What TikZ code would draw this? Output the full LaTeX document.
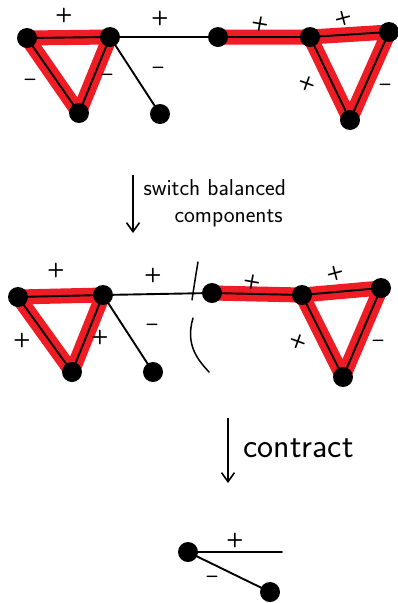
\documentclass[tikz,border=0pt]{standalone}
\usepackage{tikz}
\usetikzlibrary{positioning, arrows.meta, backgrounds}
\definecolor{Marker}{HTML}{EE1C24}
\tikzset{
    vertex/.style={circle, fill=black, inner sep=0pt, minimum size=20pt},
    edge/.style={line width=1.9pt, black, line cap=round},
    balanced/.style={line width=15pt, color=Marker, line join=round, line cap=round},
    sign/.style={font=\sffamily\bfseries\fontsize{20}{20}\selectfont, inner sep=0pt},
    flow/.style={-{Straight Barb[length=9pt, width=13pt]}, line width=1.6pt},
    cut/.style={line width=1.5pt, line cap=round},
    caption/.style={font=\sffamily\fontsize{23}{27}\selectfont, align=left},
}

\begin{document}
\begin{tikzpicture}[x=1pt, y=-1pt]
    \useasboundingbox (0,0) rectangle (397,603);

    % 1. Grafo iniziale
    \node[vertex] (a) at (27,38) {};
    \node[vertex] (b) at (110,37) {};
    \node[vertex] (c) at (79,113) {};
    \node[vertex] (d) at (160,114) {};
    \node[vertex] (e) at (218,37) {};
    \node[vertex] (f) at (310,37) {};
    \node[vertex] (g) at (389,32) {};
    \node[vertex] (h) at (350,120) {};

    \begin{scope}[on background layer]
        \draw[balanced] (a.center) -- (b.center) -- (c.center) -- cycle;
        \draw[balanced] (e.center) -- (f.center) -- (g.center) -- (h.center) -- (f.center);
        \draw[edge] (a.center) -- (b.center) -- (c.center) -- (a.center);
        \draw[edge] (b.center) -- (e.center);
        \draw[edge] (b.center) -- (d.center);
        \draw[edge] (e.center) -- (f.center) -- (g.center) -- (h.center) -- (f.center);
    \end{scope}

    \node[sign] (ab) at (64,15) {+};
    \node[sign] (be) at (160,18) {+};
    \node[sign] (ac) at (30,82) {--};
    \node[sign] (bc) at (107,77) {--};
    \node[sign] (bd) at (158,70) {--};
    \node[sign, rotate=-10] (ef) at (260,24) {+};
    \node[sign, rotate=15] (fg) at (343,18) {+};
    \node[sign, rotate=-20] (fh) at (307,84) {+};
    \node[sign] (gh) at (385,87) {--};

    % Freccia di transizione
    \coordinate (s1) at (133,175);
    \coordinate (t1) at (133,233);
    \draw[flow] (s1) -- (t1);
    \node[caption, anchor=north west] (switch) at (140,176) {switch balanced\\\hspace*{31pt}components};

    % 2. Dopo lo scambio
    \node[vertex] (a2) at (18,297) {};
    \node[vertex] (b2) at (103,295) {};
    \node[vertex] (c2) at (72,372) {};
    \node[vertex] (d2) at (153,372) {};
    \node[vertex] (e2) at (212,293) {};
    \node[vertex] (f2) at (302,295) {};
    \node[vertex] (g2) at (381,288) {};
    \node[vertex] (h2) at (343,377) {};

    \begin{scope}[on background layer]
        \draw[balanced] (a2.center) -- (b2.center) -- (c2.center) -- cycle;
        \draw[balanced] (e2.center) -- (f2.center) -- (g2.center) -- (h2.center) -- (f2.center);
        \draw[edge] (a2.center) -- (b2.center) -- (c2.center) -- (a2.center);
        \draw[edge] (b2.center) -- (e2.center);
        \draw[edge] (b2.center) -- (d2.center);
        \draw[edge] (e2.center) -- (f2.center) -- (g2.center) -- (h2.center) -- (f2.center);
    \end{scope}

    \node[sign] (ab2) at (56,270) {+};
    \node[sign] (be2) at (153,275) {+};
    \node[sign] (ac2) at (22,340) {+};
    \node[sign] (bc2) at (100,337) {+};
    \node[sign] (bd2) at (152,327) {--};
    \node[sign, rotate=-10] (ef2) at (252,282) {+};
    \node[sign, rotate=15] (fg2) at (335,273) {+};
    \node[sign, rotate=-20] (fh2) at (298,342) {+};
    \node[sign] (gh2) at (378,343) {--};

    % Taglio tra le componenti
    \draw[cut] (198,262) .. controls (195,280) .. (192,300);
    \draw[cut] (193,318) .. controls (185,345) and (198,360) .. (209,372);

    % Freccia di transizione
    \coordinate (s2) at (228,418);
    \coordinate (t2) at (228,483);
    \draw[flow] (s2) -- (t2);
    \node[caption, font=\sffamily\fontsize{34}{36}\selectfont, anchor=west] (contract) at (240,448) {contract};

    % 3. Grafo contratto
    \node[vertex] (u) at (188,552) {};
    \node[vertex] (v) at (270,592) {};
    \coordinate (w) at (282,552);
    \begin{scope}[on background layer]
        \draw[edge] (u.center) -- (w);
        \draw[edge] (u.center) -- (v.center);
    \end{scope}
    \node[sign] (uw) at (235,540) {+};
    \node[sign] (uv) at (212,579) {--};

\end{tikzpicture}
\end{document}
